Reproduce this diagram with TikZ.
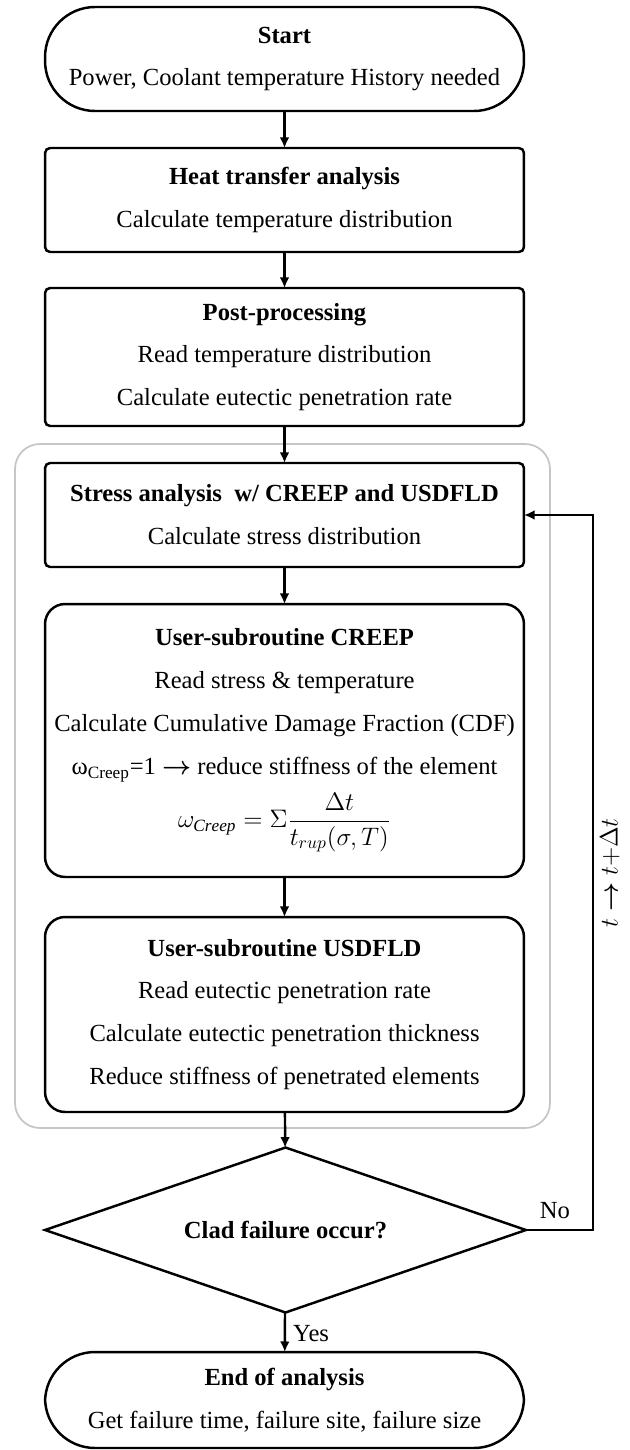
\documentclass[tikz,border=0pt]{standalone}
\usepackage{amsmath}
\usepackage{fontspec}
\setmainfont{Liberation Serif}
\usetikzlibrary{shapes.geometric,arrows.meta}

\tikzset{
    base/.style={draw, line width=1.4pt, align=center, inner sep=0pt, outer sep=0pt,
        minimum width=9.58cm, font=\fontsize{14}{24.4}\selectfont},
    term/.style={base, rounded corners=1cm},
    proc/.style={base, rounded corners=0.1cm},
    sub/.style={base, rounded corners=0.4cm},
    decide/.style={base, shape=diamond, shape aspect=2.9, minimum width=9.62cm, minimum height=3.3cm},
    lbl/.style={font=\fontsize{14}{16}\selectfont, inner sep=0pt},
}

\begin{document}
\begin{tikzpicture}[x=0.02cm, y=-0.02cm, line width=1.4pt, >={Latex[length=6pt,width=5.5pt]}]

    \useasboundingbox (0,0) rectangle (629,1450);

    \coordinate (C1) at (284.5, 59);
    \coordinate (C2) at (284.5, 200);
    \coordinate (C3) at (284.5, 357);
    \coordinate (C4) at (284.5, 515);
    \coordinate (C5) at (284.5, 740.5);
    \coordinate (C6) at (284.5, 1014.5);
    \coordinate (C7) at (285.5, 1230);
    \coordinate (C8) at (284.5, 1400);
    \coordinate (C9) at (593, 1230);

    % loop around the stress and subroutine steps
    \draw [gray!45, line width=1pt, rounded corners=0.5cm] (15,444) rectangle (550,1128);

    \node [term, minimum height=2.08cm] (N1) at (C1) {\textbf{Start}\\Power, Coolant temperature History needed};
    \node [proc, minimum height=2.08cm] (N2) at (C2) {\textbf{Heat transfer analysis}\\Calculate temperature distribution};
    \node [proc, minimum height=2.76cm] (N3) at (C3) {\textbf{Post-processing}\\Read temperature distribution\\Calculate eutectic penetration rate};
    \node [proc, minimum height=2.08cm] (N4) at (C4) {\textbf{Stress analysis\ \ w/ CREEP and USDFLD}\\Calculate stress distribution};
    \node [sub, minimum height=5.46cm] (N5) at (C5) {\textbf{User-subroutine CREEP}\\Read stress \& temperature\\Calculate Cumulative Damage Fraction (CDF)\\ω\textsubscript{Creep}=1 $\boldsymbol{\rightarrow}$ reduce stiffness of the element\\[6pt]$\omega_{\mathit{Creep}} = \Sigma\dfrac{\Delta t}{t_{rup}(\sigma,T)}$};
    \node [sub, minimum height=3.9cm] (N6) at (C6) {\textbf{User-subroutine USDFLD}\\Read eutectic penetration rate\\Calculate eutectic penetration thickness\\Reduce stiffness of penetrated elements};
    \node [decide] (N7) at (C7) {\textbf{Clad failure occur?}};
    \node [term, minimum height=1.92cm] (N8) at (C8) {\textbf{End of analysis}\\Get failure time, failure site, failure size};

    \node [lbl] (L1) at (555, 1211) {No};
    \node [lbl, anchor=west] (L2) at (292, 1334) {Yes};
    \node [lbl, rotate=90] (L3) at (610, 873) {$t \boldsymbol{\rightarrow} t{+}\Delta t$};

    \draw [->] (N1) -- (N2);
    \draw [->] (N2) -- (N3);
    \draw [->] (N3) -- (N4);
    \draw [->] (N4) -- (N5);
    \draw [->] (N5) -- (N6);
    \draw [->] (N6) -- (N7);
    \draw [->] (N7) -- (N8);
    \draw [->] (N7.east) -- (C9) |- (N4.east);

\end{tikzpicture}
\end{document}
